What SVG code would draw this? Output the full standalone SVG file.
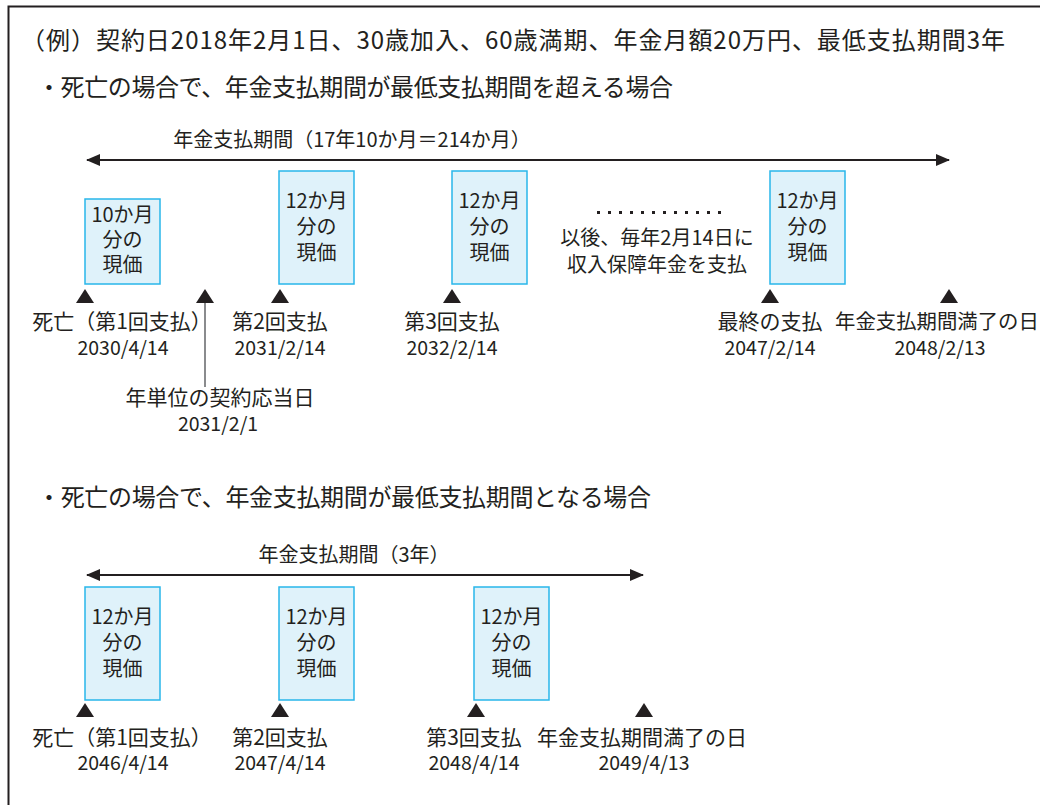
<svg xmlns="http://www.w3.org/2000/svg" width="1040" height="805" viewBox="0 0 1040 805">
<style>
text{font-family:"Noto Sans CJK JP","Noto Sans",sans-serif;fill:#231f20}
.t{font-size:24px}
.h{font-size:20px;text-anchor:middle}
.b{font-size:20px;text-anchor:middle}
.l{font-size:21px;text-anchor:middle}
.d{font-size:19.5px;text-anchor:middle}
.box{fill:#dff2fa;stroke:#29b6ea;stroke-width:1.5}
.axis{stroke:#231f20;stroke-width:1.8;fill:none}
.tri{fill:#231f20}
</style>
<defs>
<marker id="ah" viewBox="0 0 14 12" refX="13" refY="6" markerWidth="14" markerHeight="12" markerUnits="userSpaceOnUse" orient="auto-start-reverse">
<path d="M0,0 L14,6 L0,12 Z" fill="#231f20"/>
</marker>
<path id="tr" d="M0,0 L9,14 L-9,14 Z"/>
</defs>
<rect width="1040" height="805" fill="#fff"/>
<path d="M8.5,805 V6.5 H1040" fill="none" stroke="#231f20" stroke-width="2"/>
<g id="title">
<text class="t" x="21" y="49" textLength="984" lengthAdjust="spacing">（例）契約日2018年2月1日、30歳加入、60歳満期、年金月額20万円、最低支払期間3年</text>
</g>
<g id="case1-heading">
<text class="t" x="37" y="96" textLength="636" lengthAdjust="spacing">・死亡の場合で、年金支払期間が最低支払期間を超える場合</text>
</g>
<g id="case2-heading">
<text class="t" x="37" y="506" textLength="614" lengthAdjust="spacing">・死亡の場合で、年金支払期間が最低支払期間となる場合</text>
</g>
<g id="connectors">
<line class="axis" x1="87" y1="160" x2="949" y2="160" marker-start="url(#ah)" marker-end="url(#ah)"/>
<line class="axis" x1="87" y1="575" x2="643" y2="575" marker-start="url(#ah)" marker-end="url(#ah)"/>
<line x1="205" y1="302" x2="205" y2="387" stroke="#6d6e71" stroke-width="1.6"/>
</g>
<g id="period1-label"><text class="h" x="352" y="147">年金支払期間（17年10か月＝214か月）</text></g>
<g id="period2-label"><text class="h" x="354" y="562">年金支払期間（3年）</text></g>
<g id="box1-1">
<rect class="box" x="85" y="199" width="75" height="85"/>
<text class="b" x="122.5" y="222">10か月</text>
<text class="b" x="122.5" y="247">分の</text>
<text class="b" x="122.5" y="272">現価</text>
</g>
<g id="box1-2">
<rect class="box" x="279" y="171" width="75" height="113"/>
<text class="b" x="316.5" y="208">12か月</text>
<text class="b" x="316.5" y="234">分の</text>
<text class="b" x="316.5" y="260">現価</text>
</g>
<g id="box1-3">
<rect class="box" x="452" y="171" width="75" height="113"/>
<text class="b" x="489.5" y="208">12か月</text>
<text class="b" x="489.5" y="234">分の</text>
<text class="b" x="489.5" y="260">現価</text>
</g>
<g id="box1-4">
<rect class="box" x="770" y="171" width="75" height="113"/>
<text class="b" x="807.5" y="208">12か月</text>
<text class="b" x="807.5" y="234">分の</text>
<text class="b" x="807.5" y="260">現価</text>
</g>
<g id="note1">
<g fill="#231f20">
<rect x="597" y="211" width="3" height="3"/><rect x="608" y="211" width="3" height="3"/><rect x="619" y="211" width="3" height="3"/><rect x="630" y="211" width="3" height="3"/><rect x="641" y="211" width="3" height="3"/><rect x="652" y="211" width="3" height="3"/><rect x="663" y="211" width="3" height="3"/><rect x="674" y="211" width="3" height="3"/><rect x="685" y="211" width="3" height="3"/><rect x="696" y="211" width="3" height="3"/><rect x="707" y="211" width="3" height="3"/><rect x="718" y="211" width="3" height="3"/>
</g>
<text class="b" x="657" y="245">以後、毎年2月14日に</text>
<text class="b" x="657" y="272">収入保障年金を支払</text>
</g>
<g id="m1-1"><use href="#tr" x="85" y="289" class="tri"/><text class="l" x="122" y="329">死亡（第1回支払）</text><text class="d" x="123" y="355">2030/4/14</text></g>
<g id="m1-anniv"><use href="#tr" x="205" y="289" class="tri"/><text class="l" x="220" y="405">年単位の契約応当日</text><text class="d" x="218" y="431">2031/2/1</text></g>
<g id="m1-2"><use href="#tr" x="280" y="289" class="tri"/><text class="l" x="280" y="329">第2回支払</text><text class="d" x="280" y="355">2031/2/14</text></g>
<g id="m1-3"><use href="#tr" x="452" y="289" class="tri"/><text class="l" x="452" y="329">第3回支払</text><text class="d" x="452" y="355">2032/2/14</text></g>
<g id="m1-last"><use href="#tr" x="770" y="289" class="tri"/><text class="l" x="770" y="329">最終の支払</text><text class="d" x="770" y="355">2047/2/14</text></g>
<g id="m1-end"><use href="#tr" x="949" y="289" class="tri"/><text class="l" x="835" y="329" style="text-anchor:start;font-size:20.4px">年金支払期間満了の日</text><text class="d" x="940" y="355">2048/2/13</text></g>
<g id="box2-1">
<rect class="box" x="85" y="587" width="75" height="113"/>
<text class="b" x="122.5" y="624">12か月</text>
<text class="b" x="122.5" y="650">分の</text>
<text class="b" x="122.5" y="676">現価</text>
</g>
<g id="box2-2">
<rect class="box" x="279" y="587" width="75" height="113"/>
<text class="b" x="316.5" y="624">12か月</text>
<text class="b" x="316.5" y="650">分の</text>
<text class="b" x="316.5" y="676">現価</text>
</g>
<g id="box2-3">
<rect class="box" x="474" y="587" width="75" height="113"/>
<text class="b" x="511.5" y="624">12か月</text>
<text class="b" x="511.5" y="650">分の</text>
<text class="b" x="511.5" y="676">現価</text>
</g>
<g id="m2-1"><use href="#tr" x="85" y="703" class="tri"/><text class="l" x="122" y="745">死亡（第1回支払）</text><text class="d" x="123" y="770">2046/4/14</text></g>
<g id="m2-2"><use href="#tr" x="280" y="703" class="tri"/><text class="l" x="280" y="745">第2回支払</text><text class="d" x="280" y="770">2047/4/14</text></g>
<g id="m2-3"><use href="#tr" x="476" y="703" class="tri"/><text class="l" x="474" y="745">第3回支払</text><text class="d" x="474" y="770">2048/4/14</text></g>
<g id="m2-end"><use href="#tr" x="644" y="703" class="tri"/><text class="l" x="642" y="745">年金支払期間満了の日</text><text class="d" x="644" y="770">2049/4/13</text></g>
</svg>
